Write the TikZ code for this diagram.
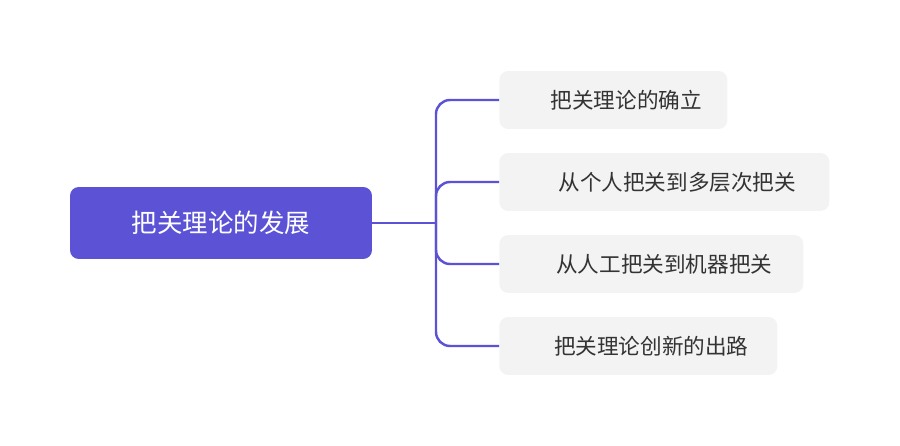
\documentclass[tikz,border=0pt]{standalone}
\usepackage{fontspec}
\setmainfont{Noto Sans CJK SC}
\usetikzlibrary{positioning}
\definecolor{rootblue}{HTML}{5B52D6}
\definecolor{leafgray}{HTML}{F3F3F3}
\definecolor{textgray}{HTML}{333333}
\begin{document}
\begin{tikzpicture}[x=0.02cm,y=-0.02cm,
    root/.style={fill=rootblue,text=white,rounded corners=5pt,font=\fontsize{14.5}{16}\selectfont,
      minimum width=6.04cm,minimum height=1.44cm,inner sep=0pt},
    leaf/.style={fill=leafgray,text=textgray,rounded corners=5pt,font=\fontsize{12.3}{14}\selectfont,
      minimum height=1.16cm,anchor=west,inner sep=0pt,align=left},
    link/.style={draw=rootblue,line width=1.4pt,rounded corners=8pt}]
    \useasboundingbox (0,0) rectangle (900,446);

    \node[root]  (dev)  at (221,223) {把关理论的发展};

    \node[leaf,minimum width=4.56cm]  (l1) at (499,100) {\hspace*{0.52cm}把关理论的确立\hfill};
    \node[leaf,minimum width=6.60cm]  (l2) at (499,182) {\hspace*{0.52cm}从个人把关到多层次把关\hfill};
    \node[leaf,minimum width=6.08cm]  (l3) at (499,264) {\hspace*{0.52cm}从人工把关到机器把关\hfill};
    \node[leaf,minimum width=5.56cm]  (l4) at (499,346) {\hspace*{0.52cm}把关理论创新的出路\hfill};

    \coordinate (fork) at (436,223);
    \draw[link] (dev.east) -- (fork);
    \draw[link] (l1.west) -| (fork) |- (l4.west);
    \draw[link] (fork) |- (l2.west);
    \draw[link] (fork) |- (l3.west);
\end{tikzpicture}
\end{document}
